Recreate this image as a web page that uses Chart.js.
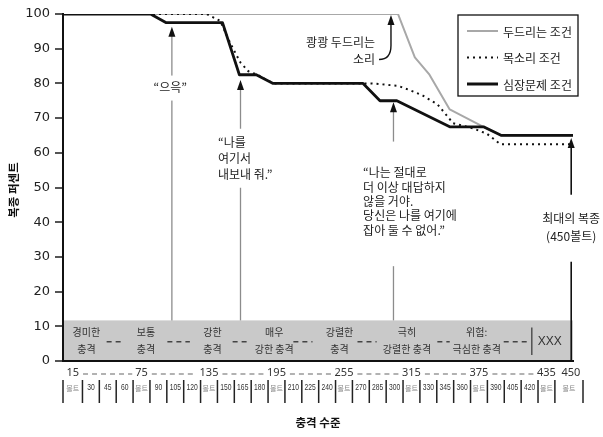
<!DOCTYPE html>
<html><head><meta charset="utf-8">
<script src="https://cdn.jsdelivr.net/npm/chart.js@4.4.1/dist/chart.umd.min.js"></script>
<style>html,body{margin:0;padding:0;background:#fff;}</style>
</head><body>
<canvas id="c" width="603" height="437"></canvas>
<script>
// ---- data ----
const X_MIN = 5.2, X_MAX = 458.6;
const legendLabels = ['두드리는 조건', '목소리 조건', '심장문제 조건'];
const tapVolts   = [5.2, 303, 318, 331, 349, 379, 395, 458.6];
const tapPct     = [100, 100, 87.5, 82.5, 72.5, 67.5, 65, 65];
const voiceVolts = [5.2, 133, 145, 154, 163, 170, 178, 192, 280, 303, 314, 325, 338, 347, 352, 370, 382, 394, 458.6];
const voicePct   = [100, 100, 98, 91.5, 86, 83.5, 82.5, 80, 80, 79.3, 78, 76.5, 74, 70.5, 68.5, 67, 65.5, 62.5, 62.5];
const heartVolts = [5.2, 83, 97, 147, 162, 177, 192, 272, 287, 302, 349, 379, 395, 458.6];
const heartPct   = [100, 100, 97.5, 97.5, 82.5, 82.5, 80, 80, 75, 75, 67.5, 67.5, 65, 65];

const levels = [15,30,45,60,75,90,105,120,135,150,165,180,195,210,225,240,255,270,285,300,315,330,345,360,375,390,405,420,435,450];
const voltMarks = [15,75,135,195,255,315,375,435,450];
const unitLabel = '볼트';
const bandTop = 11.7;
const categoryLines = [['경미한','충격'],['보통','충격'],['강한','충격'],['매우','강한 충격'],['강렬한','충격'],['극히','강렬한 충격'],['위험:','극심한 충격'],['XXX']];
const categoryVolts = [26, 79, 138, 193, 251, 311, 373, 438];
const dashRuns = [[44,60],[98,118],[156,171],[210,227],[267,284],[338,349],[397,419]];
const xxxDividerVolt = 422;

const arrowVolts = [102, 163, 299, 457];
const arrowTips  = [96.3, 81, 74.6, 64.3];
const notes = [
  {lines:['“으윽”'], v:100.5, p:78.8, align:'center', lh:16, pad:[5,6]},
  {lines:['“나를','여기서','내보내 줘.”'], v:143, p:62.9, align:'left', lh:16, pad:[7,6]},
  {lines:['“나는 절대로','더 이상 대답하지','않을 거야.','당신은 나를 여기에','잡아 둘 수 없어.”'], v:272, p:54.3, align:'left', lh:14.4, pad:[24,29]},
  {lines:['최대의 복종','(450볼트)'], v:457, p:41, align:'center', lh:18, pad:[17,18]},
  {lines:['쾅쾅 두드리는','소리'], v:282.6, p:91.8, align:'right', lh:17, pad:null}
];
const xTitle = '충격 수준';
const yTitle = '복종 퍼센트';

const KR = '"Noto Sans CJK KR", "Noto Sans", sans-serif';

const pts = (xs, ys) => xs.map((x, i) => ({x, y: ys[i]}));

const drawPlugin = {
  id: 'deco',
  beforeDraw(chart) {
    const {ctx, chartArea: a, scales: {y}} = chart;
    ctx.save();
    ctx.fillStyle = '#c9c9c9';
    const t = y.getPixelForValue(bandTop), b = y.getPixelForValue(0);
    ctx.fillRect(a.left, t, a.right - a.left, b - t);
    ctx.restore();
  },
  afterDraw(chart) {
    const {ctx, chartArea: a, scales: {x, y}} = chart;
    ctx.save();
    const bandT = y.getPixelForValue(bandTop), bandB = y.getPixelForValue(0);
    const bandMid = (bandT + bandB) / 2;

    // band labels
    ctx.fillStyle = '#333';
    ctx.textBaseline = 'middle';
    ctx.textAlign = 'center';
    categoryLines.forEach((ls, i) => {
      const cx = x.getPixelForValue(categoryVolts[i]);
      if (ls.length === 1) {
        ctx.font = '12px "Liberation Sans", sans-serif';
        ctx.fillText(ls[0], cx, bandMid + 1);
      } else {
        ctx.font = '10px ' + KR;
        ctx.fillText(ls[0], cx, bandMid - 8);
        ctx.fillText(ls[1], cx, bandMid + 9);
      }
    });
    ctx.strokeStyle = '#444';
    ctx.lineWidth = 1.4;
    ctx.setLineDash([5, 4]);
    dashRuns.forEach(([s, e]) => {
      ctx.beginPath();
      ctx.moveTo(x.getPixelForValue(s), bandMid + 1);
      ctx.lineTo(x.getPixelForValue(e), bandMid + 1);
      ctx.stroke();
    });
    ctx.setLineDash([]);
    ctx.strokeStyle = '#333';
    ctx.lineWidth = 1.2;
    const dx = x.getPixelForValue(xxxDividerVolt);
    ctx.beginPath(); ctx.moveTo(dx, bandT + 7); ctx.lineTo(dx, bandB - 6); ctx.stroke();

    // arrow lines
    arrowVolts.forEach((v, i) => {
      const ax = x.getPixelForValue(v);
      const last = i === arrowVolts.length - 1;
      ctx.strokeStyle = last ? '#111' : '#8c8c8c';
      ctx.lineWidth = last ? 1.6 : 1.3;
      ctx.beginPath();
      ctx.moveTo(ax, last ? bandB : bandT);
      ctx.lineTo(ax, y.getPixelForValue(arrowTips[i]) + 6);
      ctx.stroke();
    });

    // notes
    ctx.font = '12px ' + KR;
    notes.forEach(n => {
      const nx = x.getPixelForValue(n.v), ny = y.getPixelForValue(n.p);
      let w = 0;
      n.lines.forEach(l => { w = Math.max(w, ctx.measureText(l).width); });
      if (n.pad) {
        let left = n.align === 'left' ? nx : n.align === 'right' ? nx - w : nx - w / 2;
        ctx.fillStyle = '#fff';
        ctx.fillRect(left - 6, ny - 7 - n.pad[0], w + 12, (n.lines.length - 1) * n.lh + 14 + n.pad[0] + n.pad[1]);
      }
      ctx.fillStyle = '#222';
      ctx.textAlign = n.align;
      n.lines.forEach((l, j) => ctx.fillText(l, nx, ny + j * n.lh));
    });

    // arrow heads
    ctx.fillStyle = '#111';
    const head = (hx, hy) => {
      ctx.beginPath();
      ctx.moveTo(hx, hy);
      ctx.lineTo(hx - 3.5, hy + 10);
      ctx.lineTo(hx + 3.5, hy + 10);
      ctx.closePath();
      ctx.fill();
    };
    arrowVolts.forEach((v, i) => head(x.getPixelForValue(v), y.getPixelForValue(arrowTips[i])));

    // curved arrow for pounding note
    const tn = notes[4];
    const tx = x.getPixelForValue(tn.v), ty = y.getPixelForValue(tn.p) + tn.lh;
    const hxp = x.getPixelForValue(tapVolts[1]) - 7;
    const tipY = y.getPixelForValue(100) + 1;
    ctx.strokeStyle = '#111';
    ctx.lineWidth = 1.4;
    ctx.beginPath();
    ctx.moveTo(tx + 4, ty);
    ctx.quadraticCurveTo(hxp, ty, hxp, ty - 14);
    ctx.lineTo(hxp, tipY + 8);
    ctx.stroke();
    head(hxp, tipY);

    // legend
    const ds = chart.data.datasets;
    const lx = a.right - 115, ly = a.top + 1, lw = 120, lh = 81;
    ctx.strokeStyle = '#111';
    ctx.lineWidth = 1.3;
    ctx.strokeRect(lx, ly, lw, lh);
    ctx.font = '12px ' + KR;
    ctx.textAlign = 'left';
    ctx.fillStyle = '#222';
    [0, 1, 2].forEach(i => {
      const d = ds[i];
      const ry = ly + 16 + i * 26.5;
      ctx.strokeStyle = d.borderColor;
      ctx.lineWidth = i === 2 ? 3 : 2;
      ctx.setLineDash(d.borderDash || []);
      ctx.beginPath(); ctx.moveTo(lx + 9, ry); ctx.lineTo(lx + 40, ry); ctx.stroke();
      ctx.setLineDash([]);
      ctx.fillText(d.label, lx + 45, ry + 1);
    });

    // bottom table
    const bounds = [a.left];
    for (let i = 1; i < levels.length; i++) bounds.push(x.getPixelForValue((levels[i - 1] + levels[i]) / 2));
    bounds.push(a.right + 10);
    const centers = levels.map((v, i) => (bounds[i] + bounds[i + 1]) / 2);
    const rowY = 373;
    ctx.font = '11px "Noto Sans", sans-serif';
    ctx.fillStyle = '#333';
    ctx.textAlign = 'center';
    const marks = [];
    levels.forEach((v, i) => {
      if (voltMarks.includes(v)) {
        const cx = i === levels.length - 1 ? centers[i] + 2 : centers[i];
        ctx.fillText(String(v), cx, rowY);
        marks.push({c: cx, w: ctx.measureText(String(v)).width});
      }
    });
    ctx.strokeStyle = '#666';
    ctx.lineWidth = 1.2;
    ctx.setLineDash([5, 4]);
    for (let k = 0; k < marks.length - 2; k++) {
      ctx.beginPath();
      ctx.moveTo(marks[k].c + marks[k].w / 2 + 4, rowY + 1);
      ctx.lineTo(marks[k + 1].c - marks[k + 1].w / 2 - 3, rowY + 1);
      ctx.stroke();
    }
    ctx.setLineDash([]);
    // second row
    const row2 = 388;
    levels.forEach((v, i) => {
      ctx.save();
      ctx.translate(centers[i], row2);
      if (voltMarks.includes(v)) {
        ctx.fillStyle = '#888';
        ctx.font = '7px ' + KR;
        ctx.fillText(unitLabel, 0, 0);
      } else {
        ctx.scale(0.75, 1);
        ctx.fillStyle = '#333';
        ctx.font = '9px "Liberation Sans", sans-serif';
        ctx.fillText(String(v), 0, 0);
      }
      ctx.restore();
    });
    ctx.strokeStyle = '#222';
    ctx.lineWidth = 1.5;
    bounds.forEach(bx => {
      ctx.beginPath(); ctx.moveTo(bx, 380); ctx.lineTo(bx, 403); ctx.stroke();
    });

    // titles
    ctx.fillStyle = '#111';
    ctx.font = 'bold 11.5px ' + KR;
    ctx.textAlign = 'center';
    ctx.fillText(xTitle, (a.left + a.right) / 2 + 0, 423);
    ctx.save();
    ctx.translate(14, 190);
    ctx.rotate(-Math.PI / 2);
    ctx.fillText(yTitle, 0, 0);
    ctx.restore();
    ctx.restore();
  }
};

new Chart(document.getElementById('c'), {
  type: 'line',
  data: {
    datasets: [
      {label: legendLabels[0], data: pts(tapVolts, tapPct), borderColor: '#a8a8a8', borderWidth: 2, order: 3},
      {label: legendLabels[1], data: pts(voiceVolts, voicePct), borderColor: '#111', borderWidth: 2, borderDash: [2, 4], order: 2},
      {label: legendLabels[2], data: pts(heartVolts, heartPct), borderColor: '#111', borderWidth: 2.8, order: 1}
    ]
  },
  options: {
    responsive: false,
    animation: false,
    events: [],
    elements: {point: {radius: 0}, line: {tension: 0, borderJoinStyle: 'round'}},
    layout: {padding: {top: 14, right: 30, left: 0, bottom: 0}},
    plugins: {legend: {display: false}, tooltip: {enabled: false}},
    scales: {
      x: {
        type: 'linear', min: X_MIN, max: X_MAX,
        ticks: {display: false},
        grid: {display: false, drawTicks: false},
        border: {display: true, color: '#111', width: 2},
        afterFit: s => { s.height = 76; }
      },
      y: {
        min: 0, max: 100,
        ticks: {stepSize: 10, color: '#222', padding: 5, font: {family: 'DejaVu Sans', size: 13}},
        grid: {drawOnChartArea: false, drawTicks: true, tickLength: 8, color: '#555', lineWidth: 2},
        border: {display: true, color: '#111', width: 2},
        afterFit: s => { s.width = 63; }
      }
    }
  },
  plugins: [drawPlugin]
});
</script>
</body></html>
